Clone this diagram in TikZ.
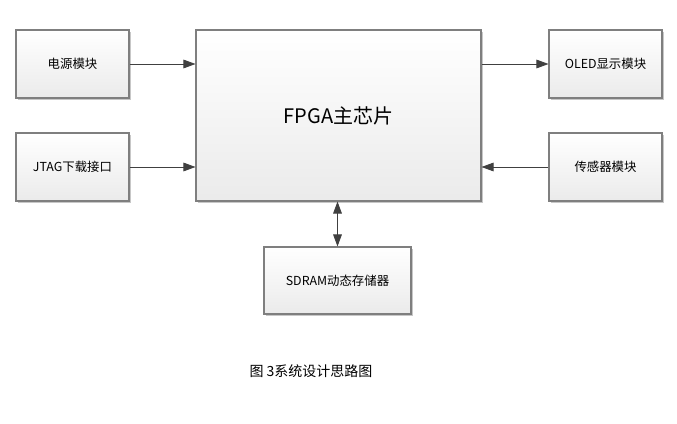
\documentclass[tikz,border=0pt]{standalone}
\usepackage{fontspec}
\setmainfont{Noto Sans CJK SC}
\usepackage{tikz}
\usetikzlibrary{arrows.meta, shadows}

\definecolor{boxline}{HTML}{7F7F7F}
\definecolor{arrowgray}{HTML}{404040}

\tikzset{
  block/.style={draw=boxline, line width=0.8pt, top color=white, bottom color=gray!16,
    drop shadow={shadow xshift=1.2pt, shadow yshift=-1.2pt, fill=gray!55, opacity=0.8},
    font=\fontsize{9.3}{11}\selectfont, inner sep=0pt},
  smallbox/.style={block, minimum width=84.75pt, minimum height=51pt},
  link/.style={draw=arrowgray, line width=0.6pt, -{Triangle[length=9pt, width=6.5pt]}}
}

\begin{document}
\begin{tikzpicture}[x=0.75pt, y=-0.75pt]
  \useasboundingbox (0,0) rectangle (677,424);
  % Bausteine links
  \node[smallbox] (power) at (72.5,64) {电源模块};
  \node[smallbox] (jtag) at (72.5,167) {JTAG下载接口};
  % FPGA in der Mitte
  \node[block, minimum width=213.75pt, minimum height=128.25pt,
    font=\fontsize{15}{18}\selectfont] (fpga) at (338.5,115.5) {FPGA主芯片};
  % Bausteine rechts
  \node[smallbox] (oled) at (605.5,64) {OLED显示模块};
  \node[smallbox] (sensor) at (605.5,167) {传感器模块};
  % Speicher unten
  \node[block, minimum width=110.25pt, minimum height=50.25pt] (sdram) at (337.5,280.5) {SDRAM动态存储器};
  % Verbindungen
  \draw[link] (power.east) -- (power.east -| fpga.west);
  \draw[link] (jtag.east) -- (jtag.east -| fpga.west);
  \draw[link] (oled.west -| fpga.east) -- (oled.west);
  \draw[link] (sensor.west) -- (sensor.west -| fpga.east);
  \draw[link, {Triangle[length=9pt, width=6.5pt]}-{Triangle[length=9pt, width=6.5pt]}]
    (sdram.north |- fpga.south) -- (sdram.north);
  % Bildunterschrift
  \node[font=\fontsize{10.5}{12}\selectfont] (caption) at (311,371) {图 3系统设计思路图};
\end{tikzpicture}
\end{document}
